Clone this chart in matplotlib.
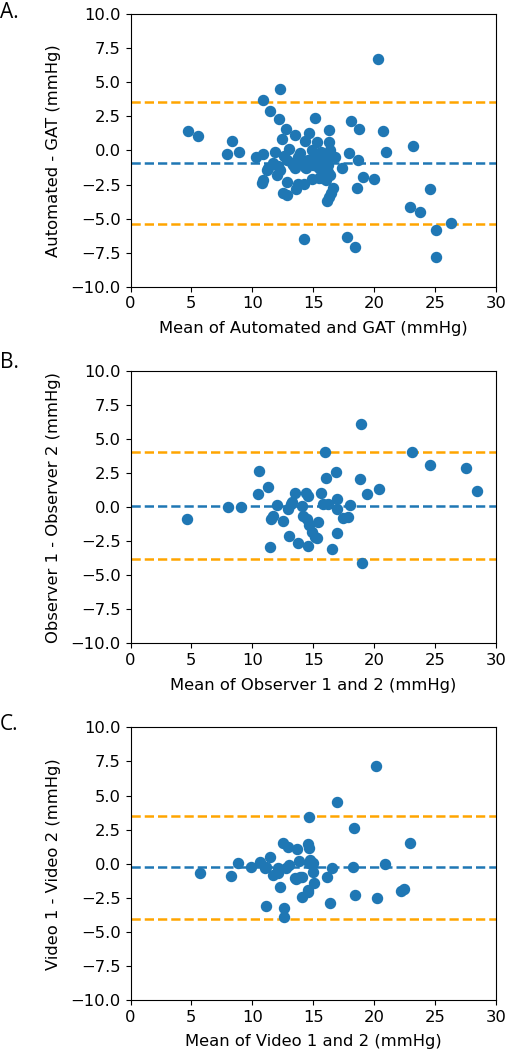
# Bland-Altman plots: automated vs GAT, inter-observer and inter-video agreement

import matplotlib.pyplot as plt

plt.rcParams["font.size"] = 11.8

# ---------------------------------------------------------------------------
# Data
# ---------------------------------------------------------------------------
# Panel A: Automated vs GAT
a_mean = [4.74, 5.56, 7.88, 8.35, 8.92, 10.27, 10.9, 10.84, 11.44, 12.26,
          12.18, 12.76, 12.43, 10.81, 10.9, 12.48, 12.87, 12.81, 13.58, 13.72,
          14.23, 14.23, 13.52, 14.32, 14.65, 15.17, 15.33, 16.29, 16.29, 14.92,
          15.69, 16.01, 16.23, 16.1, 16.29, 16.45, 16.64, 17.38, 16.81, 17.9,
          18.07, 18.78, 18.67, 18.61, 19.05, 19.98, 17.79, 18.45, 20.34, 20.75,
          20.97, 23.16, 22.94, 23.76, 24.58, 25.05, 26.31, 25.05,
          11.85, 13.02, 13.9, 14.86, 15.68, 16.36, 11.3, 11.7, 12.26, 13.22,
          13.49, 14.31, 14.99, 15.54, 16.22, 11.99, 16.36, 12.81, 13.9, 14.59,
          15.41, 15.96, 16.23, 15.96, 12.13, 13.36, 14.4, 15.4, 13.77, 12.6,
          15.1, 11.17, 15.49]
a_diff = [1.43, 1.09, -0.23, 0.70, -0.13, -0.45, -0.28, 3.68, 2.88, 4.52,
          2.31, 1.55, 0.82, -2.41, -2.19, -3.10, -3.27, -2.34, -2.83, -2.46,
          -2.48, -6.52, 1.11, 0.67, 1.26, 2.36, 0.65, 1.53, 0.65, -2.09,
          -2.04, -2.17, -1.55, -3.73, -3.39, -3.10, -2.73, -1.31, -0.45, -0.21,
          2.17, 1.60, -0.70, -2.78, -1.92, -2.09, -6.38, -7.11, 6.70, 1.46,
          -0.11, 0.36, -4.12, -4.52, -2.83, -5.86, -5.35, -7.82,
          -0.09, 0.09, -0.2, 0.0, -0.09, 0.04, -1.31, -0.94, -1.43, -0.94,
          -1.31, -1.19, -1.06, -1.38, -1.06, -1.8, -1.8, -0.7, -0.82, -0.7,
          -1.19, -0.82, -0.45, -1.68, -1.11, -1.06, -1.31, -0.7, -0.45, -0.4,
          -0.4, -1.43, -2.04]
a_bias, a_loa = -0.94, (3.58, -5.42)

# Panel B: Observer 1 vs Observer 2
b_mean = [4.6, 7.99, 9.03, 10.51, 10.43, 11.25, 11.44, 11.5, 11.66, 12.05,
          12.54, 12.98, 12.92, 13.14, 13.52, 13.77, 14.04, 14.18, 14.4, 14.59,
          14.45, 14.67, 14.54, 14.92, 15.27, 15.41, 15.66, 15.96, 15.82, 16.04,
          16.23, 16.51, 16.86, 16.92, 16.97, 16.92, 17.47, 17.82, 18.01, 18.83,
          18.94, 19.03, 19.38, 20.42, 23.08, 24.58, 27.54, 28.47, 13.22, 15.13]
b_diff = [-0.87, -0.01, -0.01, 2.68, 0.94, 1.46, -2.95, -0.89, -0.65, 0.16,
          -1.02, -2.09, -0.16, 0.23, 1.06, -2.61, 0.09, -0.62, 1.02, 0.84,
          -0.87, -1.31, -2.85, -1.85, -2.29, -1.09, 1.06, 4.03, 0.21, 2.12,
          0.23, -3.10, 2.61, 0.60, -0.13, -1.92, -0.82, -0.70, 0.16, 2.04,
          6.08, -4.12, 0.97, 1.31, 4.03, 3.07, 2.85, 1.21, 0.40, -2.17]
b_bias, b_loa = 0.11, (4.03, -3.83)

# Panel C: Video 1 vs Video 2
c_mean = [5.72, 8.21, 8.84, 9.88, 10.62, 11.09, 11.44, 11.11, 11.72, 12.13,
          12.26, 12.54, 12.89, 12.59, 12.59, 12.76, 12.98, 13.55, 13.63, 13.85,
          14.12, 14.04, 14.59, 14.56, 14.67, 14.67, 14.73, 14.95, 15.0, 15.08,
          16.1, 16.51, 16.37, 16.92, 18.23, 18.34, 18.42, 20.15, 20.2, 20.89,
          22.17, 22.45, 22.94, 11.03, 12.12, 13.49, 13.9, 14.66, 14.58]
c_diff = [-0.66, -0.88, 0.02, -0.22, 0.12, -0.27, 0.49, -3.08, -0.86, -0.66,
          -1.71, 1.54, 1.25, -3.25, -3.94, -0.29, -0.07, -1.15, 1.05, 0.17,
          -0.95, -2.42, -2.05, 1.44, 1.17, 3.40, 0.27, 0.02, -0.59, -1.44,
          -0.95, -0.34, -2.91, 4.55, -0.22, 2.59, -2.27, 7.16, -2.54, -0.02,
          -1.98, -1.83, 1.54, -0.35, -0.35, -1.08, -0.96, 0.02, -1.94]
c_bias, c_loa = -0.27, (3.47, -4.06)

PANELS = [
    ("A.", a_mean, a_diff, a_bias, a_loa,
     "Mean of Automated and GAT (mmHg)", "Automated - GAT (mmHg)"),
    ("B.", b_mean, b_diff, b_bias, b_loa,
     "Mean of Observer 1 and 2 (mmHg)", "Observer 1 - Observer 2 (mmHg)"),
    ("C.", c_mean, c_diff, c_bias, c_loa,
     "Mean of Video 1 and 2 (mmHg)", "Video 1 - Video 2 (mmHg)"),
]

# axes rectangles in figure fraction, and panel-label heights
AX_RECTS = [
    [0.258, 0.727, 0.722, 0.2594],
    [0.258, 0.3873, 0.722, 0.2594],
    [0.258, 0.0476, 0.722, 0.2597],
]
LABEL_Y = [0.998, 0.665, 0.32]


def bland_altman(ax, mean, diff, bias, loa, xlabel, ylabel):
    ax.scatter(mean, diff, s=52, color="#1f77b4", zorder=3)
    ax.axhline(bias, color="#1f77b4", linestyle="--", linewidth=1.8)
    for lim in loa:
        ax.axhline(lim, color="orange", linestyle="--", linewidth=1.8)
    ax.set_xlim(0, 30)
    ax.set_ylim(-10, 10)
    ax.set_xlabel(xlabel, labelpad=7)
    ax.set_ylabel(ylabel, labelpad=7)


fig = plt.figure(figsize=(5.06, 10.5), dpi=100)
for rect, label_y, (tag, m, d, bias, loa, xl, yl) in zip(AX_RECTS, LABEL_Y, PANELS):
    ax = fig.add_axes(rect)
    bland_altman(ax, m, d, bias, loa, xl, yl)
    fig.text(0.0, label_y, tag, family="Open Sans", fontsize=15, va="top", ha="left")

fig.savefig("out.png", dpi=100)
